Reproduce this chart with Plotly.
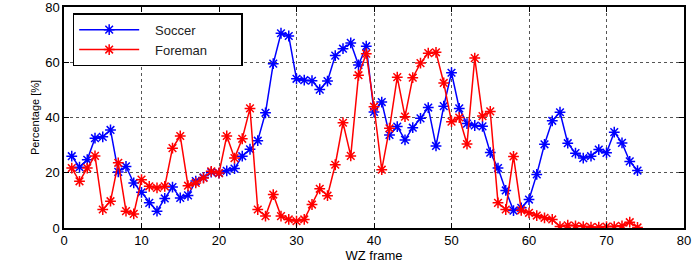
import plotly.graph_objects as go

frames = list(range(1, 75))
soccer = [26, 22, 24.7, 32.5, 33, 35.5, 20.3, 22.3, 16.3, 12.9,
          9.1, 6.1, 10.7, 14.8, 10.9, 11.8, 17, 18.3, 20.2, 19.9,
          20.7, 21.5, 26, 28.5, 31.6, 41.7, 59.5, 70.5, 69.5, 54,
          53.5, 53.3, 50.1, 53.2, 62.4, 64.9, 67, 59, 65.8, 42,
          45.6, 33.7, 36.7, 31.9, 36.3, 39.7, 43.6, 29.7, 44.1, 56.2,
          43.3, 37.8, 37.1, 36.8, 27.3, 21.7, 13.6, 6.3, 7.3, 10.3,
          19.4, 30.3, 38.8, 41.9, 30.7, 27.1, 25.3, 26, 28.4, 27.2,
          34.7, 30.8, 24.1, 20.8]
foreman = [21.7, 16.9, 21.7, 26.1, 6.7, 9.7, 23.6, 6.1, 5.1, 17.5,
           15.1, 14.5, 15.1, 28.9, 33.3, 15.3, 16.3, 18.1, 20.5, 19.9,
           33.3, 25.3, 32.3, 43.3, 6.7, 4.3, 12.1, 4.3, 3.1, 2.5,
           3.1, 8.5, 14.2, 11.7, 22.9, 38.1, 26.1, 55.3, 63.1, 43.9,
           21.1, 36.1, 54.6, 40.3, 54.4, 59.7, 63.3, 63.6, 52.5, 38.5,
           40, 30.4, 61.5, 40.5, 42.2, 9.1, 6.7, 25.9, 6.4, 5.5,
           4.5, 3.7, 3.1, 0.5, 1, 0.8, 0.5, 0.3, 0.3, 0.5,
           0.5, 0.8, 2.1, 0.2]
series_names = ["Soccer", "Foreman"]
x_ticks = list(range(0, 81, 10))
y_ticks = [0, 20, 40, 60, 80]

pad_l = "\u00a0" * 3
pad_r = "\u00a0" * 8

fig = go.Figure()
for name, ys, col in [(series_names[0], soccer, "#0000ff"), (series_names[1], foreman, "#ff0000")]:
    fig.add_trace(go.Scatter(
        x=frames, y=ys, name=pad_l + name + pad_r, mode="lines+markers",
        line=dict(color=col, width=1.5),
        marker=dict(symbol="asterisk-open", size=9, color=col,
                    line=dict(color=col, width=1.5)),
    ))

axis_common = dict(
    showline=True, linecolor="black", linewidth=1.5, mirror="ticks",
    ticks="inside", ticklen=5, tickcolor="black", tickwidth=1,
    showgrid=True, gridcolor="#555555", griddash="dot", gridwidth=1,
    zeroline=False, tickfont=dict(size=13, color="black"),
    automargin=False, ticklabeloverflow="allow",
)
fig.update_xaxes(range=[0, 80], tickvals=x_ticks,
                 title=dict(text="WZ frame", font=dict(size=13, color="black"), standoff=2),
                 **axis_common)
fig.update_yaxes(range=[0, 80], tickvals=y_ticks,
                 title=dict(text="Percentage [%]", font=dict(size=11, color="black"), standoff=3),
                 **axis_common)

fig.update_layout(
    width=696, height=264,
    margin=dict(l=64, r=12, t=7, b=36),
    paper_bgcolor="white", plot_bgcolor="white",
    font=dict(family="Liberation Sans, Arial, Helvetica, sans-serif", color="black"),
    showlegend=True,
    legend=dict(x=0.014, y=0.972, xanchor="left", yanchor="top",
                bgcolor="white", bordercolor="black", borderwidth=1.5,
                font=dict(size=13, color="#222222"), itemwidth=60,
                tracegroupgap=0),
)

fig.write_html("out.html")
